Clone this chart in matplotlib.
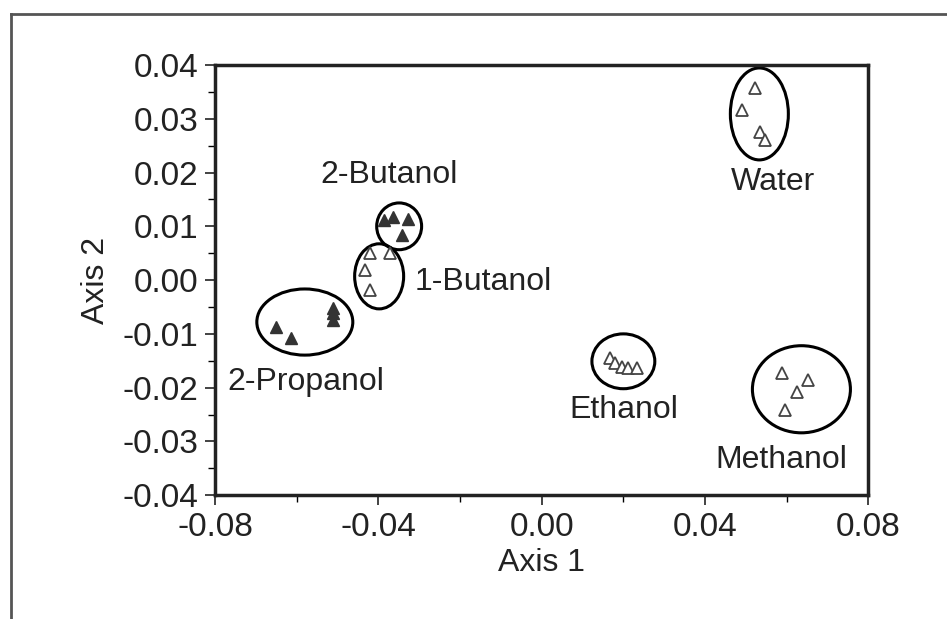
import matplotlib
matplotlib.use('Agg')
import matplotlib.pyplot as plt
from matplotlib.patches import Ellipse
from matplotlib.lines import Line2D
from matplotlib.ticker import MultipleLocator

plt.rcParams['font.family'] = ['Liberation Sans', 'DejaVu Sans']

# points per solvent (axis 1, axis 2)
water_x = [0.0523, 0.0491, 0.0535, 0.0548]
water_y = [0.0357, 0.0316, 0.0275, 0.0260]
methanol_x = [0.0589, 0.0653, 0.0626, 0.0597]
methanol_y = [-0.0173, -0.0186, -0.0208, -0.0242]
ethanol_x = [0.0168, 0.0180, 0.0197, 0.0212, 0.0234]
ethanol_y = [-0.0145, -0.0154, -0.0162, -0.0164, -0.0164]
butanol1_x = [-0.0420, -0.0371, -0.0432, -0.0420]
butanol1_y = [0.0050, 0.0050, 0.0019, -0.0019]
butanol2_x = [-0.0386, -0.0364, -0.0327, -0.0342]
butanol2_y = [0.0112, 0.0117, 0.0113, 0.0084]
propanol2_x = [-0.0651, -0.0614, -0.0511, -0.0511, -0.0511]
propanol2_y = [-0.0087, -0.0108, -0.0052, -0.0061, -0.0074]

# cluster ellipses: centre x, centre y, width, height
ell_names = ['Water', 'Methanol', 'Ethanol', '1-Butanol', '2-Butanol', '2-Propanol']
ell_cx = [0.0533, 0.0636, 0.0200, -0.0398, -0.0349, -0.0580]
ell_cy = [0.0309, -0.0203, -0.0151, 0.0007, 0.0100, -0.0078]
ell_w = [0.0142, 0.0240, 0.0154, 0.0120, 0.0110, 0.0235]
ell_h = [0.0171, 0.0162, 0.0102, 0.0121, 0.0087, 0.0123]

# label positions
lab_x = [0.0567, 0.0587, 0.0202, -0.0143, -0.0374, -0.0577]
lab_y = [0.0182, -0.0335, -0.0242, -0.0004, 0.0195, -0.0190]

fig = plt.figure(figsize=(9.47, 6.19), dpi=100)
ax = fig.add_axes([0.227, 0.200, 0.690, 0.695])

open_kw = dict(marker='^', ms=8.5, mfc='white', mec='#444444', mew=1.3, ls='none')
fill_kw = dict(marker='^', ms=8.5, mfc='#333333', mec='#333333', mew=1.0, ls='none')

ax.plot(water_x, water_y, **open_kw)
ax.plot(methanol_x, methanol_y, **open_kw)
ax.plot(ethanol_x, ethanol_y, **open_kw)
ax.plot(butanol1_x, butanol1_y, **open_kw)
ax.plot(butanol2_x, butanol2_y, **fill_kw)
ax.plot(propanol2_x, propanol2_y, **fill_kw)

for cx, cy, w, h in zip(ell_cx, ell_cy, ell_w, ell_h):
    ax.add_patch(Ellipse((cx, cy), w, h, fill=False, ec='black', lw=2.2))

for name, x, y in zip(ell_names, lab_x, lab_y):
    ax.text(x, y, name, ha='center', va='center', fontsize=23, color='#222222')

ax.set_xlim(-0.08, 0.08)
ax.set_ylim(-0.04, 0.04)
ax.xaxis.set_major_locator(MultipleLocator(0.04))
ax.xaxis.set_minor_locator(MultipleLocator(0.02))
ax.yaxis.set_major_locator(MultipleLocator(0.01))
ax.yaxis.set_minor_locator(MultipleLocator(0.005))
ax.set_xticklabels([f'{v:.2f}' for v in ax.get_xticks()])
ax.set_yticklabels([f'{v:.2f}' for v in ax.get_yticks()])
ax.tick_params(which='major', direction='out', length=7, width=1.2, labelsize=24,
               colors='#222222', pad=5)
ax.tick_params(which='minor', direction='out', length=5, width=1.0)
for s in ax.spines.values():
    s.set_linewidth(2.5)
    s.set_color('#222222')

ax.set_xlabel('Axis 1', fontsize=23, color='#222222', labelpad=4)
ax.set_ylabel('Axis 2', fontsize=23, color='#222222', labelpad=8)

# outer frame (top and left only)
fig.add_artist(Line2D([0.0116, 1.0], [0.977, 0.977], color='#555555', lw=2))
fig.add_artist(Line2D([0.0116, 0.0116], [0.0, 0.977], color='#555555', lw=2))

fig.savefig('out.png', dpi=100)
